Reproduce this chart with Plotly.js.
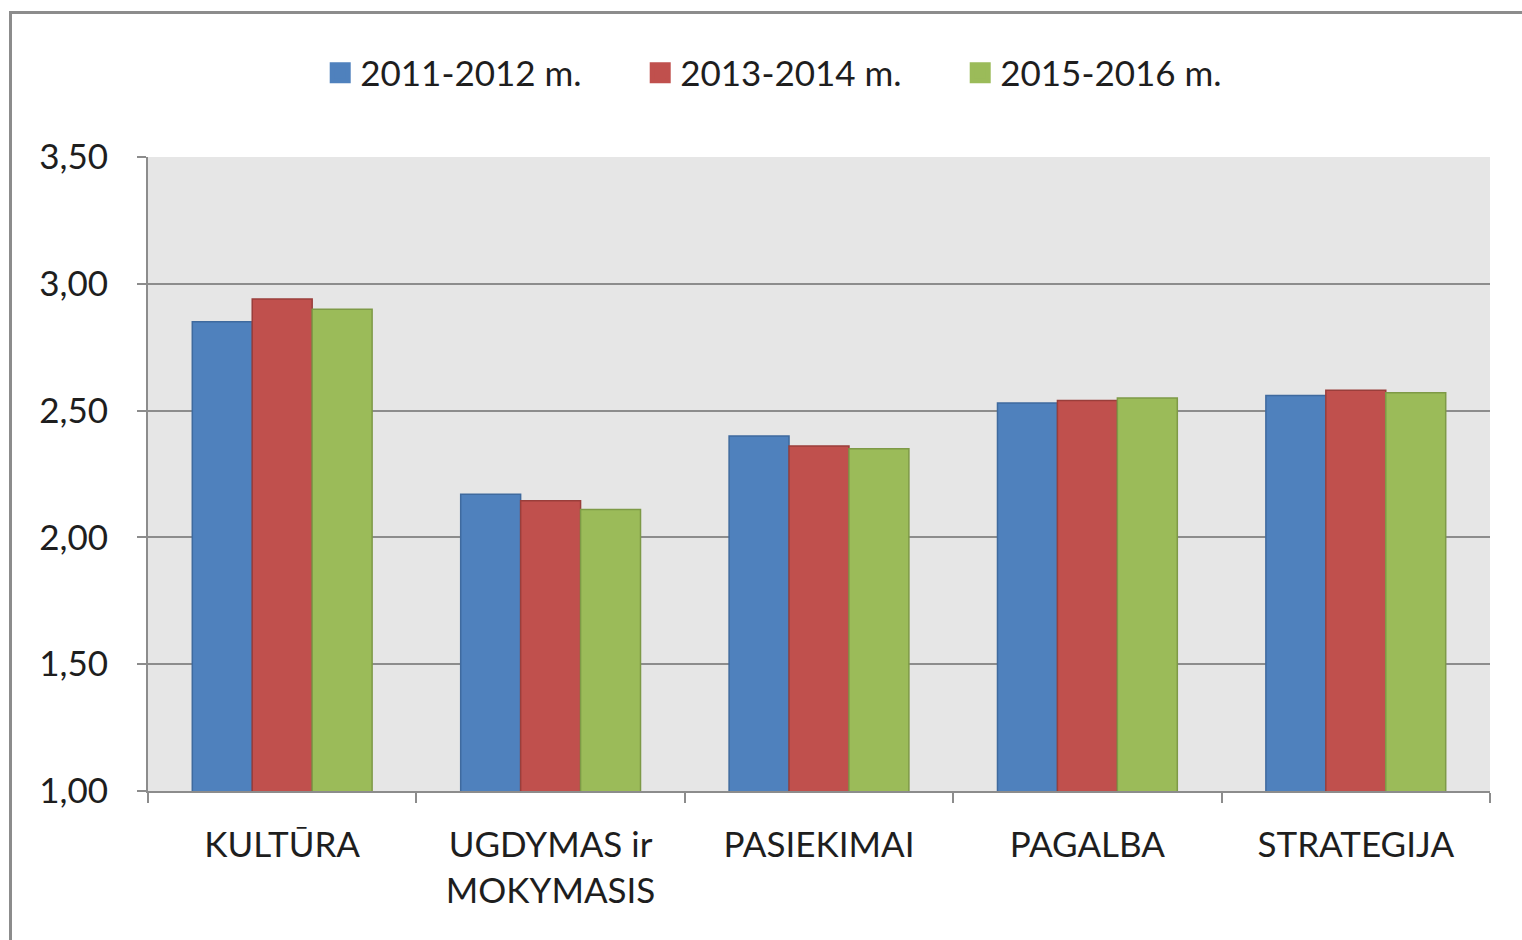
<!DOCTYPE html>
<html>
<head>
<meta charset="utf-8">
<script src="https://cdn.plot.ly/plotly-3.0.1.min.js"></script>
<style>
html,body{margin:0;padding:0;background:#fff;overflow:hidden;}
#chart{position:absolute;left:0;top:0;width:1522px;height:940px;}
#frame{position:absolute;left:9px;top:11px;width:1600px;height:1000px;border:3px solid #8c8c8c;pointer-events:none;}
</style>
</head>
<body>
<div id="chart"></div>
<div id="frame"></div>
<script>
const categories = ["KULTŪRA", "UGDYMAS ir<br>MOKYMASIS", "PASIEKIMAI", "PAGALBA", "STRATEGIJA"];
const seriesNames = ["2011-2012 m.", "2013-2014 m.", "2015-2016 m."];
const values2011 = [2.85, 2.17, 2.40, 2.53, 2.56];
const values2013 = [2.94, 2.145, 2.36, 2.54, 2.58];
const values2015 = [2.90, 2.11, 2.35, 2.55, 2.57];
const yTicks = [1.0, 1.5, 2.0, 2.5, 3.0, 3.5];

const fills = ["#4F81BD", "#C0504D", "#9BBB59"];
const edges = ["#3F6A9E", "#9A3E3B", "#7E9A47"];
const allValues = [values2011, values2013, values2015];

const font = "Lato, 'Liberation Sans', sans-serif";
const fs = 35;

const barTraces = allValues.map((vals, i) => ({
  type: "bar",
  name: seriesNames[i],
  legendgroup: "g" + i,
  showlegend: false,
  x: categories,
  y: vals,
  marker: {color: fills[i], line: {color: edges[i], width: 1.5}},
  hoverinfo: "x+y+name"
}));

// legend-only entries with larger square swatches
const legendTraces = seriesNames.map((nm, i) => ({
  type: "scatter",
  mode: "markers",
  name: nm,
  legendgroup: "g" + i,
  x: [null],
  y: [null],
  marker: {symbol: "square", size: 16, color: fills[i], line: {color: fills[i], width: 5}},
  hoverinfo: "skip"
}));

const layout = {
  width: 1522,
  height: 940,
  margin: {l: 148, r: 32, t: 157, b: 149, pad: 0},
  paper_bgcolor: "rgba(0,0,0,0)",
  plot_bgcolor: "#E6E6E6",
  separators: ",.",
  barmode: "group",
  bargap: 0.33,
  bargroupgap: 0,
  font: {family: font, size: fs, color: "#1e1e1e"},
  showlegend: true,
  legend: {
    orientation: "h",
    x: 0.486, xanchor: "center",
    y: 1.1325, yanchor: "middle",
    font: {family: font, size: fs, color: "#1e1e1e"},
    itemsizing: "trace",
    itemwidth: 30,
    entrywidth: 275,
    entrywidthmode: "pixels",
    tracegroupgap: 0,
    bgcolor: "rgba(0,0,0,0)"
  },
  xaxis: {
    type: "category",
    showgrid: false,
    showline: true,
    linecolor: "#8c8c8c",
    linewidth: 2,
    ticks: "outside",
    tickson: "boundaries",
    ticklen: 10,
    tickwidth: 2,
    tickcolor: "#8c8c8c",
    ticklabelstandoff: 22,
    tickfont: {family: font, size: fs, color: "#1e1e1e"}
  },
  yaxis: {
    range: [1, 3.5],
    tickvals: yTicks,
    tickformat: ".2f",
    showgrid: true,
    gridcolor: "#8c8c8c",
    gridwidth: 2,
    zeroline: false,
    showline: true,
    linecolor: "#8c8c8c",
    linewidth: 2,
    ticks: "outside",
    ticklen: 9,
    tickwidth: 2,
    tickcolor: "#8c8c8c",
    ticklabelstandoff: 22,
    tickfont: {family: font, size: fs, color: "#1e1e1e"}
  }
};

Plotly.newPlot("chart", barTraces.concat(legendTraces), layout, {displayModeBar: false, staticPlot: true});
</script>
</body>
</html>
